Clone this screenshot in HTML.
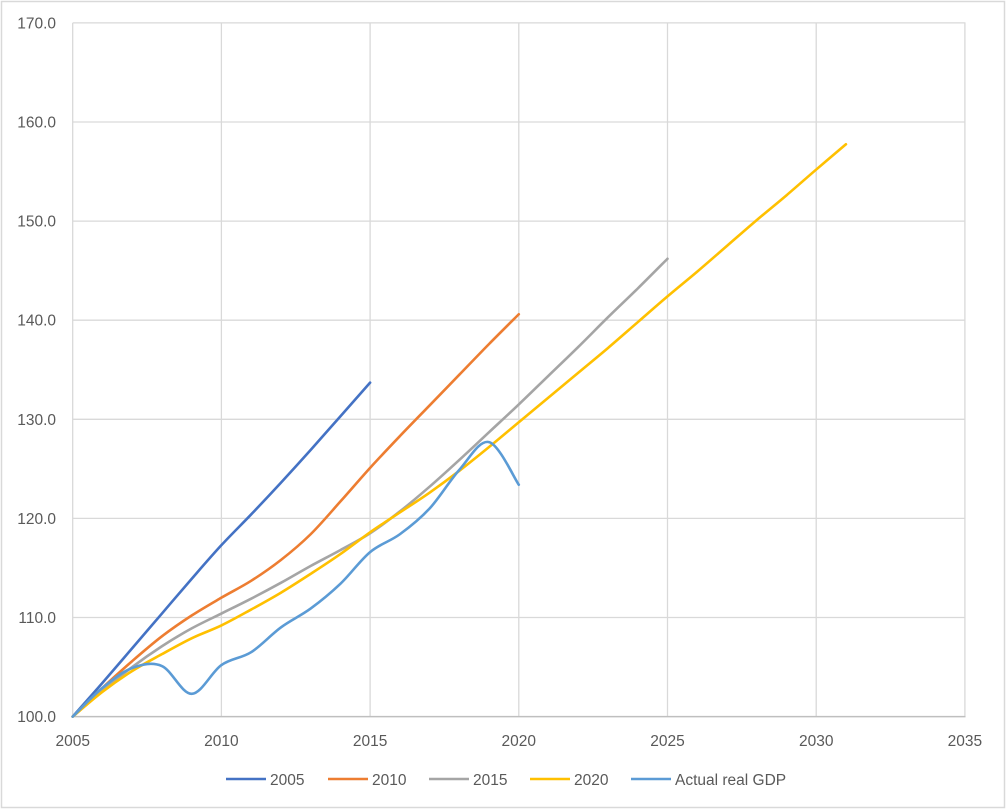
<!DOCTYPE html>
<html><head><meta charset="utf-8"><style>
html,body{margin:0;padding:0;background:#fff;}
svg{display:block;}
text{font-family:"Liberation Sans",sans-serif;font-size:15.5px;fill:#595959;}
</style></head><body>
<svg id="c" width="1008" height="810" viewBox="0 0 1008 810" xmlns="http://www.w3.org/2000/svg">
<rect x="1.5" y="1.5" width="1003" height="806" fill="#fff" stroke="#d9d9d9" stroke-width="1.5"/>
<g id="grid" stroke="#d9d9d9" stroke-width="1.3" fill="none"></g>
<line x1="72.7" y1="716.6" x2="965.5" y2="716.6" stroke="#bfbfbf" stroke-width="1.5"/>
<g id="series" fill="none" stroke-width="2.6" stroke-linejoin="round" stroke-linecap="round"></g>
<g text-anchor="end">
<text x="56" y="28.4">170.0</text>
<text x="56" y="127.5">160.0</text>
<text x="56" y="226.6">150.0</text>
<text x="56" y="325.7">140.0</text>
<text x="56" y="424.8">130.0</text>
<text x="56" y="523.9">120.0</text>
<text x="56" y="623.0">110.0</text>
<text x="56" y="722.1">100.0</text>
</g>
<g text-anchor="middle">
<text x="72.7" y="746">2005</text>
<text x="221.4" y="746">2010</text>
<text x="370.1" y="746">2015</text>
<text x="518.8" y="746">2020</text>
<text x="667.5" y="746">2025</text>
<text x="816.2" y="746">2030</text>
<text x="964.9" y="746">2035</text>
</g>
<g stroke-width="2.6">
<line x1="226" y1="779" x2="266" y2="779" stroke="#4472C4"/>
<line x1="328" y1="779" x2="368" y2="779" stroke="#ED7D31"/>
<line x1="429" y1="779" x2="469" y2="779" stroke="#A5A5A5"/>
<line x1="530" y1="779" x2="570" y2="779" stroke="#FFC000"/>
<line x1="631" y1="779" x2="671" y2="779" stroke="#5B9BD5"/>
</g>
<text x="270" y="785">2005</text>
<text x="372" y="785">2010</text>
<text x="473" y="785">2015</text>
<text x="574" y="785">2020</text>
<text x="675" y="785">Actual real GDP</text>
</svg>
<script>
(function(){
var NS="http://www.w3.org/2000/svg";
function X(y){return 72.7+(y-2005)*29.74;}
function Y(v){return 716.6-(v-100)*9.91;}
var g=document.getElementById('grid');
function ln(x1,y1,x2,y2){var l=document.createElementNS(NS,'line');l.setAttribute('x1',x1);l.setAttribute('y1',y1);l.setAttribute('x2',x2);l.setAttribute('y2',y2);g.appendChild(l);}
for(var v=110;v<=170;v+=10){ln(72.7,Y(v),965.5,Y(v));}
for(var yr=2005;yr<=2035;yr+=5){ln(X(yr),Y(170),X(yr),716.6);}
var data=[
["#4472C4",[100,103.4,106.9,110.4,113.9,117.3,120.4,123.6,126.9,130.3,133.7]],
["#ED7D31",[100,102.9,105.6,108.1,110.2,112.0,113.7,115.8,118.4,121.7,125.1,128.3,131.4,134.5,137.6,140.6]],
["#A5A5A5",[100,102.6,105.0,107.1,108.9,110.4,111.9,113.5,115.2,116.8,118.5,120.7,123.2,125.9,128.7,131.5,134.4,137.3,140.3,143.2,146.2]],
["#FFC000",[100,102.5,104.6,106.3,107.9,109.2,110.8,112.5,114.4,116.4,118.6,120.6,122.6,124.8,127.2,129.7,132.2,134.7,137.2,139.8,142.4,144.9,147.5,150.1,152.6,155.2,157.75]],
["#5B9BD5",[100,102.9,104.9,105.1,102.3,105.2,106.5,109.0,110.9,113.4,116.6,118.4,121.0,124.9,127.7,123.4]]
];
var s=document.getElementById('series');
data.forEach(function(d){
 var p=d[1].map(function(v,i){return [X(2005+i),Y(v)];});
 var str="M"+p[0][0].toFixed(2)+","+p[0][1].toFixed(2);
 for(var i=0;i<p.length-1;i++){
  var p0=p[i>0?i-1:i],p1=p[i],p2=p[i+1],p3=p[i+2<p.length?i+2:i+1];
  var c1=[p1[0]+(p2[0]-p0[0])/6,p1[1]+(p2[1]-p0[1])/6];
  var c2=[p2[0]-(p3[0]-p1[0])/6,p2[1]-(p3[1]-p1[1])/6];
  str+=" C"+c1[0].toFixed(2)+","+c1[1].toFixed(2)+" "+c2[0].toFixed(2)+","+c2[1].toFixed(2)+" "+p2[0].toFixed(2)+","+p2[1].toFixed(2);
 }
 var path=document.createElementNS(NS,'path');
 path.setAttribute('d',str);path.setAttribute('stroke',d[0]);
 s.appendChild(path);
});
})();
</script>
</body></html>
